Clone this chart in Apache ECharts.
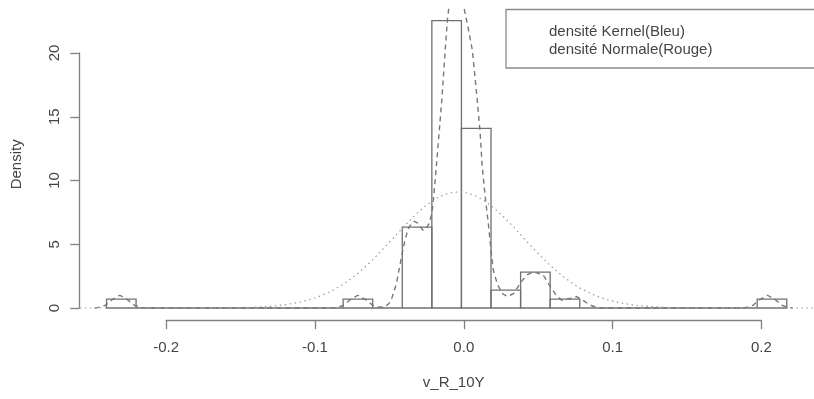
<!DOCTYPE html>
<html>
<head>
<meta charset="utf-8">
<script src="https://cdn.jsdelivr.net/npm/echarts@6/dist/echarts.min.js"></script>
<style>html,body{margin:0;padding:0;background:#fff;}#chart{width:814px;height:399px;}</style>
</head>
<body>
<div id="chart"></div>
<script>
// Histogram bins (start of each bin, width 0.02) and densities
const binStarts = [-0.24,-0.22,-0.20,-0.18,-0.16,-0.14,-0.12,-0.10,-0.08,-0.06,-0.04,-0.02,0.00,0.02,0.04,0.06,0.08,0.10,0.12,0.14,0.16,0.18,0.20];
const binWidth = 0.02;
const binDensity = [0.704,0,0,0,0,0,0,0,0.704,0,6.338,22.535,14.085,1.408,2.817,0.704,0,0,0,0,0,0,0.704];

// Kernel density (dashed)
const kernelX = [-0.248,-0.246,-0.241,-0.236,-0.231,-0.226,-0.221,-0.216,-0.211,-0.090,-0.085,-0.080,-0.075,-0.070,-0.065,-0.060,-0.056,-0.052,-0.049,-0.047,-0.044,-0.042,-0.040,-0.038,-0.036,-0.034,-0.032,-0.030,-0.028,-0.026,-0.024,-0.022,-0.020,-0.019,-0.0166,-0.0133,-0.0110,-0.0095,-0.0080,-0.0060,-0.0035,-0.0010,0.0018,0.0045,0.0074,0.0107,0.0126,0.0140,0.0160,0.0186,0.0200,0.0215,0.0242,0.0275,0.031,0.0355,0.040,0.0443,0.049,0.0555,0.060,0.0644,0.068,0.0733,0.0779,0.0823,0.0868,0.0913,0.096,0.190,0.192,0.197,0.202,0.207,0.212,0.217,0.222,0.224];
const kernelY = [0,0.03,0.2,0.67,1.0,0.67,0.2,0.03,0,0,0.03,0.2,0.67,1.0,0.67,0.22,0.06,0.08,0.35,0.8,1.9,3.1,4.3,5.4,6.2,6.6,6.8,6.7,6.4,6.1,6.2,6.6,7.4,8.4,11.6,16.3,20.2,22.6,24.0,25.5,26.0,25.3,23.5,22.0,20.2,16.3,13.8,11.2,8.8,6.2,4.5,3.0,1.9,1.15,0.9,1.15,2.0,2.6,2.85,2.55,1.7,0.95,0.6,0.75,0.9,0.6,0.24,0.05,0,0,0.03,0.2,0.67,1.0,0.67,0.2,0.03,0];

// Normal density (dotted)
const normX = [-0.258,-0.22,-0.20,-0.18,-0.16,-0.15,-0.14,-0.13,-0.12,-0.11,-0.10,-0.095,-0.09,-0.085,-0.08,-0.075,-0.07,-0.065,-0.06,-0.055,-0.05,-0.045,-0.04,-0.035,-0.03,-0.025,-0.02,-0.015,-0.01,-0.005,0,0.005,0.01,0.015,0.02,0.025,0.03,0.035,0.04,0.045,0.05,0.055,0.06,0.065,0.07,0.075,0.08,0.085,0.09,0.095,0.10,0.11,0.12,0.13,0.14,0.15,0.16,0.18,0.20,0.238];
const normY = [0,0,0.0003,0.0024,0.0135,0.030,0.064,0.127,0.241,0.436,0.747,0.957,1.21,1.51,1.86,2.27,2.73,3.24,3.79,4.38,5.00,5.63,6.25,6.86,7.43,7.94,8.37,8.72,8.96,9.09,9.10,8.99,8.77,8.45,8.03,7.53,6.98,6.38,5.75,5.12,4.50,3.91,3.34,2.83,2.36,1.94,1.58,1.27,1.00,0.785,0.605,0.347,0.188,0.097,0.047,0.022,0.0097,0.0016,0.0002,0];

const xTickLabels = ['-0.2','-0.1','0.0','0.1','0.2'];
const yTickLabels = ['0','5','10','15','20'];
const legendLines = ['densité Kernel(Bleu)','densité Normale(Rouge)'];

const FONT = '"Liberation Sans", Arial, Helvetica, sans-serif';
const TXT = '#444444';
const AX = '#808080';

const chart = echarts.init(document.getElementById('chart'), null, {renderer:'canvas'});
chart.setOption({
  animation: false,
  backgroundColor: '#fff',
  grid: [
    {left: 79.3, right: -4.5, top: 9.2, bottom: 79.5},
    {left: 166.2, right: 52.6, top: 300, bottom: 78.8},
    {left: 79.3, width: 10, top: 53, bottom: 91}
  ],
  xAxis: [
    {gridIndex: 0, type: 'value', min: -0.2584, max: 0.2384,
     axisLine: {show: false}, axisTick: {show: false}, axisLabel: {show: false}, splitLine: {show: false},
     name: 'v_R_10Y', nameLocation: 'middle', nameGap: 56,
     nameTextStyle: {fontSize: 15, fontFamily: FONT, color: TXT, padding: [0, 0, 0, 14]}},
    {gridIndex: 1, type: 'value', min: -0.2, max: 0.2, interval: 0.1,
     axisLine: {show: true, lineStyle: {color: AX, width: 1.3}},
     axisTick: {show: true, length: 9, lineStyle: {color: AX, width: 1.3}},
     axisLabel: {fontSize: 15, fontFamily: FONT, color: TXT, margin: 20,
       formatter: v => xTickLabels[Math.round((v + 0.2) / 0.1)]},
     splitLine: {show: false}},
    {gridIndex: 2, type: 'value', show: false, min: 0, max: 1}
  ],
  yAxis: [
    {gridIndex: 0, type: 'value', min: -0.9014, max: 23.436,
     axisLine: {show: false}, axisTick: {show: false}, axisLabel: {show: false}, splitLine: {show: false},
     name: 'Density', nameLocation: 'middle', nameGap: 55, nameRotate: 90,
     nameTextStyle: {fontSize: 15, fontFamily: FONT, color: TXT}},
    {gridIndex: 1, type: 'value', show: false, min: 0, max: 1},
    {gridIndex: 2, type: 'value', min: 0, max: 20, interval: 5,
     axisLine: {show: true, lineStyle: {color: AX, width: 1.3}},
     axisTick: {show: true, length: 9, lineStyle: {color: AX, width: 1.3}},
     axisLabel: {fontSize: 15, fontFamily: FONT, color: TXT, margin: 17, rotate: 90,
       formatter: v => yTickLabels[Math.round(v / 5)]},
     splitLine: {show: false}}
  ],
  series: [
    {
      type: 'custom', xAxisIndex: 0, yAxisIndex: 0, z: 2,
      data: binStarts.map((s, i) => [s, s + binWidth, binDensity[i]]),
      encode: {x: [0, 1], y: 2},
      renderItem: (params, api) => {
        const p0 = api.coord([api.value(0), api.value(2)]);
        const p1 = api.coord([api.value(1), 0]);
        return {type: 'rect', shape: {x: p0[0], y: p0[1], width: p1[0] - p0[0], height: p1[1] - p0[1]},
          style: {fill: 'none', stroke: '#707070', lineWidth: 1.3}};
      }
    },
    {
      type: 'line', xAxisIndex: 0, yAxisIndex: 0, z: 3, showSymbol: false, symbol: 'none', clip: true,
      data: kernelX.map((x, i) => [x, kernelY[i]]),
      lineStyle: {color: '#777777', width: 1.4, type: [5, 4]}
    },
    {
      type: 'line', xAxisIndex: 0, yAxisIndex: 0, z: 3, showSymbol: false, symbol: 'none', clip: true,
      data: normX.map((x, i) => [x, normY[i]]),
      lineStyle: {color: '#9a9a9a', width: 1.2, type: [1.5, 3.5]}
    }
  ],
  graphic: [
    {type: 'rect', z: 10, shape: {x: 506, y: 9.5, width: 330, height: 58.5},
     style: {fill: '#fff', stroke: '#8a8a8a', lineWidth: 1.3}},
    {type: 'text', z: 11, style: {text: legendLines[0], x: 549, y: 31.7, fill: TXT, fontSize: 15, fontFamily: FONT, verticalAlign: 'middle'}},
    {type: 'text', z: 11, style: {text: legendLines[1], x: 549, y: 50, fill: TXT, fontSize: 15, fontFamily: FONT, verticalAlign: 'middle'}}
  ]
});
</script>
</body>
</html>
